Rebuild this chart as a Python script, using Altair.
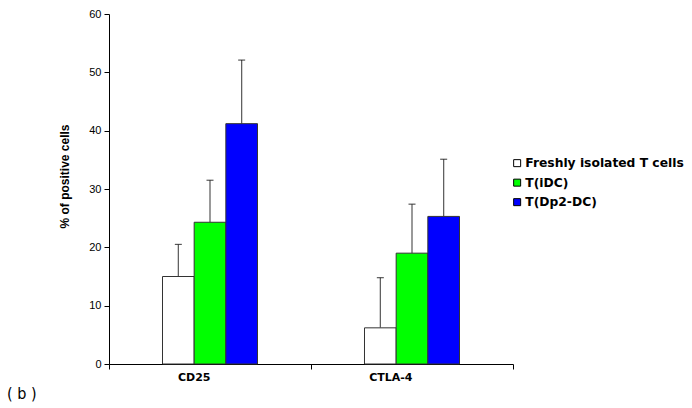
import altair as alt
import pandas as pd

# Marker expression (% of positive cells), mean and SD per group
markers = ["CD25", "CTLA-4"]
groups = ["Freshly isolated T cells", "T(iDC)", "T(Dp2-DC)"]
colors = ["#FFFFFF", "#00FF00", "#0000FF"]
means_cd25 = [15.0, 24.3, 41.2]
sds_cd25 = [5.5, 7.2, 10.9]
means_ctla4 = [6.2, 19.0, 25.3]
sds_ctla4 = [8.6, 8.4, 9.8]
y_ticks = [0, 10, 20, 30, 40, 50, 60]

rows = []
for m, means, sds in [("CD25", means_cd25, sds_cd25), ("CTLA-4", means_ctla4, sds_ctla4)]:
    for g, mu, sd in zip(groups, means, sds):
        rows.append({"marker": m, "group": g, "mean": mu, "top": mu + sd})
df = pd.DataFrame(rows)

x_enc = alt.X(
    "marker:N",
    sort=markers,
    title=None,
    scale=alt.Scale(paddingInner=0, paddingOuter=0),
    axis=alt.Axis(
        labelAngle=0,
        labelFont="DejaVu Sans",
        labelFontWeight="bold",
        labelFontSize=11,
        labelColor="#000",
        labelPadding=8,
        tickBand="extent",
        tickSize=5,
        tickColor="#000",
        domainColor="#000",
        grid=False,
    ),
)
# bars of one marker sit side by side in the middle of its band
xoff = alt.XOffset(
    "group:N", sort=groups, scale=alt.Scale(range=[53.5, 148.5], paddingInner=0, paddingOuter=0)
)
y_scale = alt.Scale(domain=[0, 60], nice=False)

bars = alt.Chart(df).mark_bar(stroke="#333333", strokeWidth=1).encode(
    x=x_enc,
    xOffset=xoff,
    y=alt.Y(
        "mean:Q",
        scale=y_scale,
        title="% of positive cells",
        axis=alt.Axis(
            values=y_ticks,
            grid=False,
            tickSize=5,
            tickColor="#000",
            domainColor="#000",
            labelFont="Liberation Sans",
            labelFontSize=11,
            labelColor="#000",
            labelPadding=3,
            titleFont="Liberation Sans",
            titleFontSize=12,
            titleFontWeight="bold",
            titleColor="#000",
            titleX=-38,
            titleY=162,
        ),
    ),
    fill=alt.Fill(
        "group:N",
        sort=groups,
        scale=alt.Scale(domain=groups, range=colors),
        legend=alt.Legend(
            title=None,
            orient="none",
            legendX=402,
            legendY=143,
            padding=0,
            symbolType="square",
            symbolSize=49,
            symbolStrokeColor="#000",
            symbolStrokeWidth=1,
            labelFont="DejaVu Sans",
            labelFontWeight="bold",
            labelFontSize=12.3,
            labelColor="#000",
            labelLimit=0,
            rowPadding=6.5,
            labelOffset=2,
        ),
    ),
)

err = alt.Chart(df).mark_rule(color="#555555", strokeWidth=1.2).encode(
    x=alt.X("marker:N", sort=markers),
    xOffset=alt.XOffset("group:N", sort=groups),
    y=alt.Y("mean:Q", scale=y_scale),
    y2="top:Q",
)

caps = alt.Chart(df).mark_tick(color="#111111", thickness=1.2, size=7, orient="horizontal").encode(
    x=alt.X("marker:N", sort=markers),
    xOffset=alt.XOffset("group:N", sort=groups),
    y=alt.Y("top:Q", scale=y_scale),
)

panel_label = alt.Chart(pd.DataFrame({"t": ["( b )"]})).mark_text(
    font="DejaVu Sans Condensed", fontSize=16, align="left", baseline="middle", color="#000"
).encode(text="t:N", x=alt.value(-102), y=alt.value(380))

chart = (
    alt.layer(err, bars, caps, panel_label)
    .properties(
        width=404,
        height=350,
        autosize=alt.AutoSizeParams(type="none"),
        padding={"left": 109, "top": 14, "right": 179, "bottom": 44},
        background="#FFFFFF",
    )
    .configure_view(stroke=None)
)

chart.save("out.html", embed_options={"renderer": "svg", "actions": False})
